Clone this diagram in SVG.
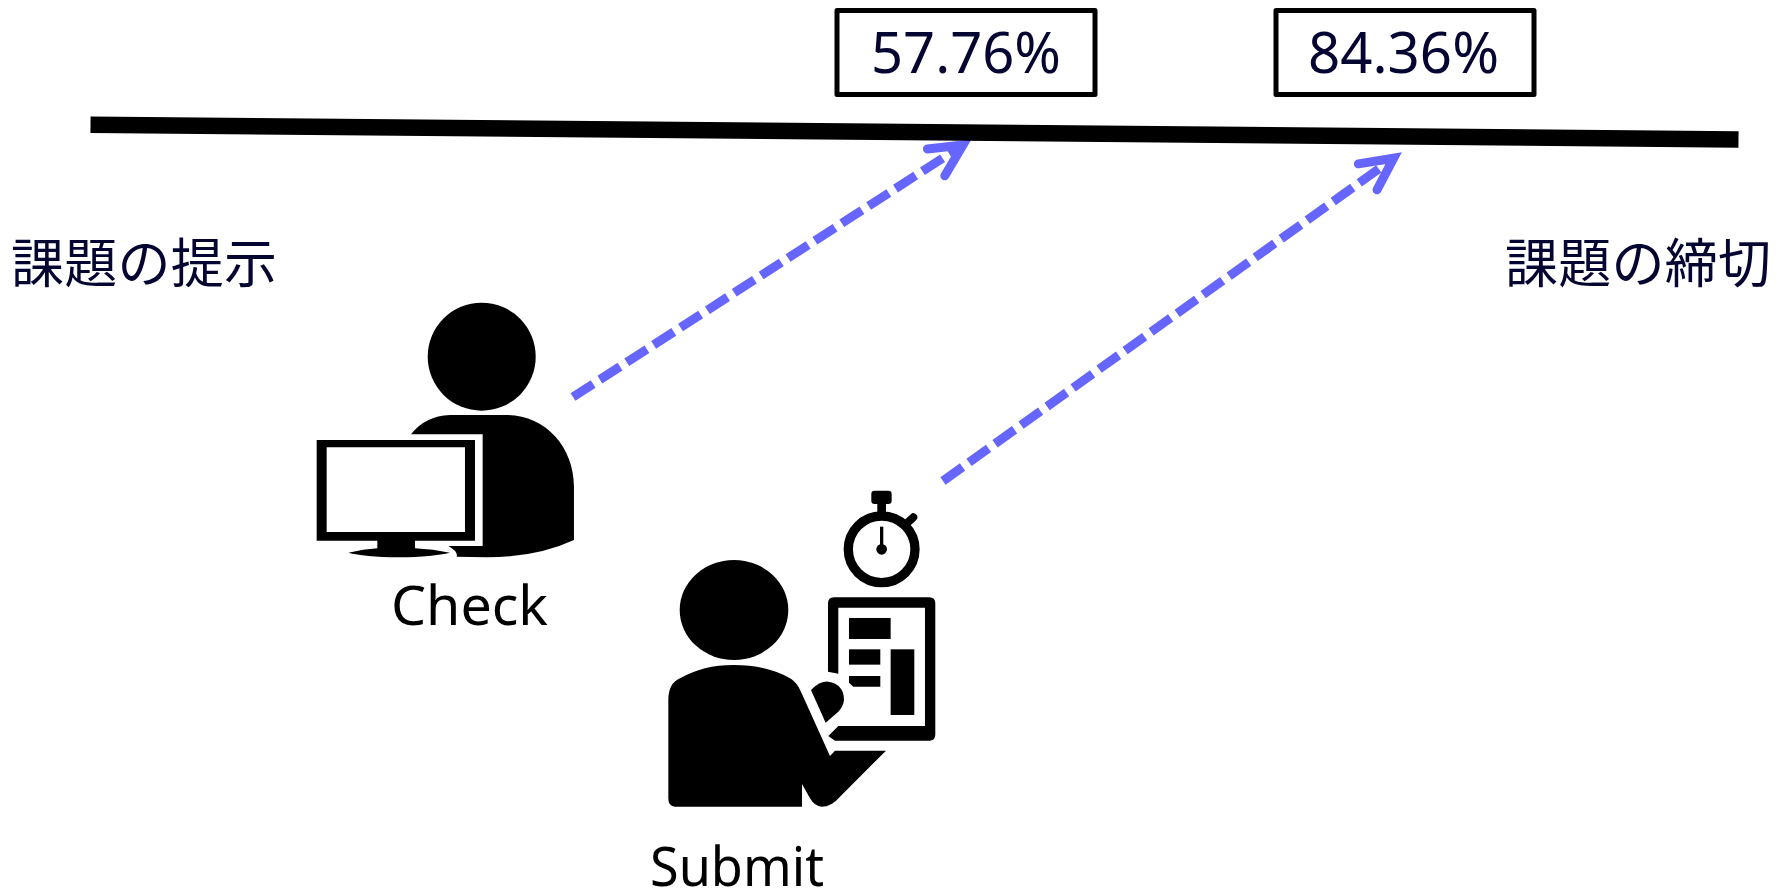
<svg xmlns="http://www.w3.org/2000/svg" width="1788" height="891" viewBox="0 0 1788 891">
<style>
.t{font-family:"Noto Sans CJK JP","Noto Sans",sans-serif;font-size:53px;fill:#050532}
.n{font-family:"Noto Sans","Noto Sans CJK JP",sans-serif;font-size:56px;fill:#050532}
.l{font-family:"Noto Sans","Noto Sans CJK JP",sans-serif;font-size:55px;fill:#000}
.box{fill:#fff;stroke:#000;stroke-width:5;stroke-linejoin:round}
.arrow{fill:none;stroke:#6666ff;stroke-width:9;stroke-dasharray:24 8;marker-end:url(#head)}
</style>
<defs>
<marker id="head" markerUnits="userSpaceOnUse" markerWidth="70" markerHeight="60" viewBox="0 0 70 60" refX="50" refY="30" orient="auto">
<path d="M18,14 L50,30 L18,46" fill="none" stroke="#6666ff" stroke-width="9" stroke-linecap="round" stroke-linejoin="miter" stroke-miterlimit="10"/>
</marker>
</defs>
<rect width="1788" height="891" fill="#fff"/>
<g id="connectors">
<path class="arrow" d="M573,397 L963,145"/>
<path class="arrow" d="M943,481 L1393.7,158.2"/>
</g>
<g id="timeline"><path d="M90.5,124.7 L1738.5,139.5" stroke="#000" stroke-width="16.5" fill="none"/></g>
<g id="box1"><rect class="box" x="837" y="10.5" width="258" height="84"/><text class="n" x="871" y="73" textLength="190" lengthAdjust="spacingAndGlyphs">57.76%</text></g>
<g id="box2"><rect class="box" x="1276" y="10.5" width="258" height="84"/><text class="n" x="1308" y="73" textLength="191" lengthAdjust="spacingAndGlyphs">84.36%</text></g>
<g id="start"><text class="t" x="11" y="283" textLength="266">課題の提示</text></g>
<g id="end"><text class="t" x="1505" y="283" textLength="266">課題の締切</text></g>
<g id="check">
<circle cx="481.7" cy="356.7" r="54"/>
<path transform="translate(300 290) scale(.3333)" d="M333,433 Q375,378 450,375 L620,375 C735,375 822,470 822,590 L822,750 Q710,802 560,802 L470,800 Q475,785 445,768 L548,768 L548,433 Z"/>
<path fill="#000" transform="translate(300 290) scale(.3333)" fill-rule="evenodd" d="M50,450 L525,450 L525,752 L345,752 L345,775 Q400,778 450,788 Q400,800 297,802 Q190,800 145,788 Q190,778 232,775 L232,752 L50,752 Z M80,472 L80,726 L495,726 L495,472 Z"/>
<text class="l" x="391" y="625" textLength="157" lengthAdjust="spacingAndGlyphs">Check</text>
</g>
<g id="submit">
<ellipse cx="734" cy="610" rx="54.3" ry="50"/>
<g transform="translate(640 480) scale(.3333)">
<path d="M105,980 Q85,980 85,955 L85,660 Q85,610 120,595 Q190,555 280,555 Q380,555 450,595 Q470,605 485,640 L570,828 L585,812 L738,812 L600,950 Q575,980 545,980 Q525,980 510,955 L486,912 L486,980 Z"/>
<path d="M513,630 Q540,603 565,605 Q612,612 612,660 Q610,680 595,695 L557,728 Z"/>
<path d="M564,575 L564,370 Q564,352 582,352 L868,352 Q886,352 886,370 L886,764 Q886,782 868,782 L585,782 L565,768 L595,738 L855,738 L855,383 L595,383 L595,581 Z"/>
<rect x="627" y="414" width="125" height="63"/>
<rect x="627" y="508" width="94" height="46"/>
<path d="M627,588 L721,588 L721,620 L640,620 L627,608 Z"/>
<rect x="752" y="508" width="71" height="197"/>
<circle cx="725" cy="208" r="100" fill="none" stroke="#000" stroke-width="28"/>
<rect x="694" y="32" width="61" height="40" rx="10"/>
<rect x="712" y="70" width="26" height="32"/>
<path d="M795,135 L820,112" stroke="#000" stroke-width="24" stroke-linecap="round" fill="none"/>
<path d="M725,140 L725,208" stroke="#000" stroke-width="10" fill="none"/>
<circle cx="725" cy="208" r="16"/>
</g>
<text class="l" x="650" y="886" textLength="174" lengthAdjust="spacingAndGlyphs">Submit</text>
</g>
</svg>
